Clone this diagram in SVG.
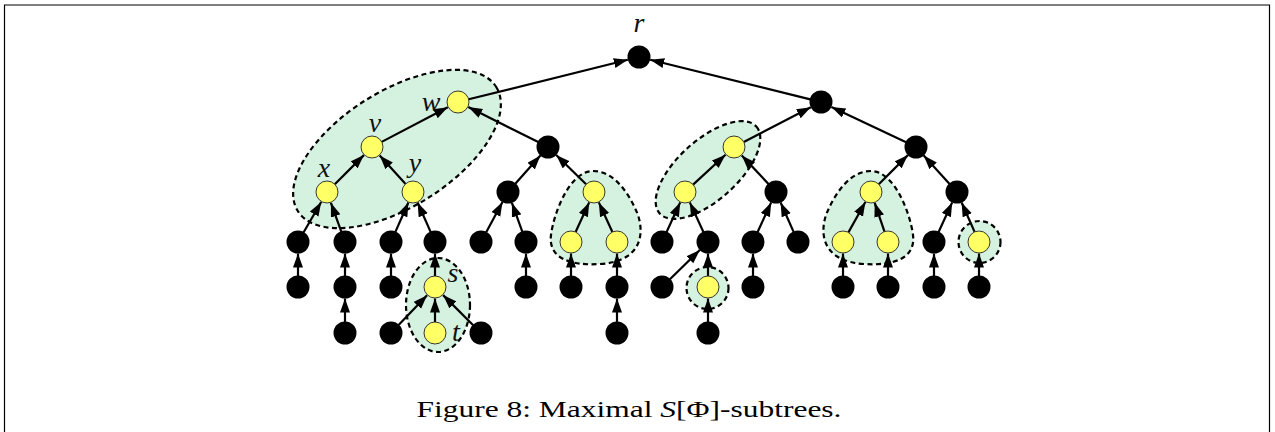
<svg xmlns="http://www.w3.org/2000/svg" width="1275" height="432" viewBox="0 0 1275 432">
<style>
.blob{fill:#d5f1e0;stroke:#000;stroke-width:2.2;stroke-dasharray:5 3.5}
.b{fill:#000}
.y{fill:#ffff66;stroke:#222;stroke-width:0.9}
.e{stroke:#000;stroke-width:2.2;fill:none;marker-end:url(#ah)}
.lbl{font-family:"Liberation Serif",serif;font-style:italic;font-size:28px;fill:#111}
.cap{font-family:"Liberation Serif",serif;font-size:24px;fill:#000}
</style>
<defs>
<marker id="ah" markerUnits="userSpaceOnUse" markerWidth="15" markerHeight="11" refX="14" refY="5" orient="auto">
<path d="M0,0 L14,5 L0,10 Z" fill="#000"/>
</marker>
</defs>
<rect width="1275" height="432" fill="#fff"/>
<path d="M4.5,432 V5 H1269.5 V432" fill="none" stroke="#000" stroke-width="1.2"/>

<g id="blobs">
<ellipse class="blob" cx="397" cy="149" rx="117" ry="58" transform="rotate(-32 397 149)"/>
<path class="blob" d="M593,171 C615,171 630,195 638,215 C646,240 636,262 600,264 C570,266 548,258 551,235 C554,212 570,171 593,171 Z"/>
<path class="blob" transform="translate(1464,0) scale(-1,1)" d="M593,171 C615,171 630,195 638,215 C646,240 636,262 600,264 C570,266 548,258 551,235 C554,212 570,171 593,171 Z"/>
<ellipse class="blob" cx="438" cy="305" rx="32" ry="47"/>
<ellipse class="blob" cx="708" cy="170" rx="65" ry="30" transform="rotate(-42 708 170)"/>
<circle class="blob" cx="707.5" cy="288" r="21"/>
<circle class="blob" cx="979.5" cy="242" r="21"/>
</g>

<g id="connectors">
<line class="e" x1="468.7" y1="99.3" x2="627.8" y2="59.8"/>
<line class="e" x1="810.3" y1="99.4" x2="650.2" y2="59.8"/>
<line class="e" x1="381.7" y1="141.9" x2="447.8" y2="107.3"/>
<line class="e" x1="538.2" y1="142.1" x2="468.3" y2="107.1"/>
<line class="e" x1="334.8" y1="184.2" x2="363.9" y2="155.1"/>
<line class="e" x1="405.6" y1="183.9" x2="379.7" y2="155.5"/>
<line class="e" x1="515.3" y1="183.8" x2="540.4" y2="155.6"/>
<line class="e" x1="586.1" y1="184.3" x2="556.2" y2="155.0"/>
<line class="e" x1="303.5" y1="232.5" x2="321.2" y2="202.0"/>
<line class="e" x1="341.3" y1="231.7" x2="330.9" y2="202.8"/>
<line class="e" x1="395.4" y1="231.9" x2="408.4" y2="202.5"/>
<line class="e" x1="430.6" y1="231.9" x2="417.6" y2="202.5"/>
<line class="e" x1="486.2" y1="232.3" x2="502.5" y2="202.1"/>
<line class="e" x1="522.3" y1="231.7" x2="511.9" y2="202.8"/>
<line class="e" x1="575.6" y1="232.0" x2="589.2" y2="202.4"/>
<line class="e" x1="612.4" y1="232.0" x2="598.8" y2="202.4"/>
<line class="e" x1="298" y1="276" x2="298" y2="253.5"/>
<line class="e" x1="345" y1="276" x2="345" y2="253.5"/>
<line class="e" x1="391" y1="276" x2="391" y2="253.5"/>
<line class="e" x1="435" y1="276" x2="435" y2="253.5"/>
<line class="e" x1="526" y1="276" x2="526" y2="253.5"/>
<line class="e" x1="571" y1="276" x2="571" y2="253.5"/>
<line class="e" x1="617" y1="276" x2="617" y2="253.5"/>
<line class="e" x1="345" y1="322" x2="345" y2="298.5"/>
<line class="e" x1="435" y1="322" x2="435" y2="298.5"/>
<line class="e" x1="617" y1="322" x2="617" y2="298.5"/>
<line class="e" x1="398.6" y1="325.1" x2="427.1" y2="295.3"/>
<line class="e" x1="473.2" y1="325.2" x2="443.1" y2="295.1"/>
<line class="e" x1="743.8" y1="141.9" x2="810.8" y2="107.3"/>
<line class="e" x1="906.1" y1="142.3" x2="831.4" y2="106.9"/>
<line class="e" x1="693.1" y1="184.6" x2="725.5" y2="154.8"/>
<line class="e" x1="768.5" y1="184.0" x2="741.8" y2="155.4"/>
<line class="e" x1="878.8" y1="184.2" x2="907.9" y2="155.1"/>
<line class="e" x1="949.6" y1="183.9" x2="923.7" y2="155.5"/>
<line class="e" x1="666.6" y1="232.0" x2="680.2" y2="202.4"/>
<line class="e" x1="703.4" y1="232.0" x2="689.8" y2="202.4"/>
<line class="e" x1="757.6" y1="232.0" x2="771.2" y2="202.4"/>
<line class="e" x1="793.6" y1="231.9" x2="780.6" y2="202.5"/>
<line class="e" x1="848.4" y1="232.4" x2="865.4" y2="202.0"/>
<line class="e" x1="884.5" y1="231.6" x2="874.7" y2="202.8"/>
<line class="e" x1="938.6" y1="232.0" x2="952.2" y2="202.4"/>
<line class="e" x1="974.6" y1="231.9" x2="961.6" y2="202.5"/>
<line class="e" x1="669.9" y1="279.3" x2="699.8" y2="250.0"/>
<line class="e" x1="708" y1="276" x2="708" y2="253.5"/>
<line class="e" x1="753" y1="276" x2="753" y2="253.5"/>
<line class="e" x1="843" y1="276" x2="843" y2="253.5"/>
<line class="e" x1="888" y1="276" x2="888" y2="253.5"/>
<line class="e" x1="934" y1="276" x2="934" y2="253.5"/>
<line class="e" x1="979" y1="276" x2="979" y2="253.5"/>
<line class="e" x1="708" y1="322" x2="708" y2="298.5"/>
</g>

<g id="node-r"><circle class="b" cx="639" cy="57" r="11.5"/><text class="lbl" x="639" y="32" text-anchor="middle">r</text></g>
<g id="node-w"><circle class="y" cx="458" cy="102" r="11"/><text class="lbl" x="431" y="111" text-anchor="middle">w</text></g>
<g id="node-b1"><circle class="b" cx="548" cy="147" r="11.5"/></g>
<g id="node-v"><circle class="y" cx="372" cy="147" r="11"/><text class="lbl" x="375" y="132" text-anchor="middle">v</text></g>
<g id="node-x"><circle class="y" cx="327" cy="192" r="11"/><text class="lbl" x="324" y="177" text-anchor="middle">x</text></g>
<g id="node-y"><circle class="y" cx="413" cy="192" r="11"/><text class="lbl" x="415" y="172" text-anchor="middle">y</text></g>
<g id="node-c1"><circle class="b" cx="508" cy="192" r="11.5"/></g>
<g id="node-d1"><circle class="y" cx="594" cy="192" r="11"/></g>
<g id="node-n1"><circle class="b" cx="298" cy="242" r="11.5"/></g>
<g id="node-n2"><circle class="b" cx="345" cy="242" r="11.5"/></g>
<g id="node-n3"><circle class="b" cx="391" cy="242" r="11.5"/></g>
<g id="node-n4"><circle class="b" cx="435" cy="242" r="11.5"/></g>
<g id="node-n5"><circle class="b" cx="481" cy="242" r="11.5"/></g>
<g id="node-n6"><circle class="b" cx="526" cy="242" r="11.5"/></g>
<g id="node-n7"><circle class="y" cx="571" cy="242" r="11"/></g>
<g id="node-n8"><circle class="y" cx="617" cy="242" r="11"/></g>
<g id="node-m1"><circle class="b" cx="298" cy="287" r="11.5"/></g>
<g id="node-m2"><circle class="b" cx="345" cy="287" r="11.5"/></g>
<g id="node-m3"><circle class="b" cx="391" cy="287" r="11.5"/></g>
<g id="node-s"><circle class="y" cx="435" cy="287" r="11"/><text class="lbl" x="453" y="282" text-anchor="middle">s</text></g>
<g id="node-m5"><circle class="b" cx="526" cy="287" r="11.5"/></g>
<g id="node-m6"><circle class="b" cx="571" cy="287" r="11.5"/></g>
<g id="node-m7"><circle class="b" cx="617" cy="287" r="11.5"/></g>
<g id="node-k1"><circle class="b" cx="345" cy="333" r="11.5"/></g>
<g id="node-k2"><circle class="b" cx="391" cy="333" r="11.5"/></g>
<g id="node-t"><circle class="y" cx="435" cy="333" r="11"/><text class="lbl" x="456" y="341" text-anchor="middle">t</text></g>
<g id="node-k3"><circle class="b" cx="481" cy="333" r="11.5"/></g>
<g id="node-k4"><circle class="b" cx="617" cy="333" r="11.5"/></g>

<g id="node-R1"><circle class="b" cx="821" cy="102" r="11.5"/></g>
<g id="node-R2"><circle class="y" cx="734" cy="147" r="11"/></g>
<g id="node-R3"><circle class="b" cx="916" cy="147" r="11.5"/></g>
<g id="node-R4"><circle class="y" cx="685" cy="192" r="11"/></g>
<g id="node-R5"><circle class="b" cx="776" cy="192" r="11.5"/></g>
<g id="node-R6"><circle class="y" cx="871" cy="192" r="11"/></g>
<g id="node-R7"><circle class="b" cx="957" cy="192" r="11.5"/></g>
<g id="node-P1"><circle class="b" cx="662" cy="242" r="11.5"/></g>
<g id="node-P2"><circle class="b" cx="708" cy="242" r="11.5"/></g>
<g id="node-P3"><circle class="b" cx="753" cy="242" r="11.5"/></g>
<g id="node-P4"><circle class="b" cx="798" cy="242" r="11.5"/></g>
<g id="node-P5"><circle class="y" cx="843" cy="242" r="11"/></g>
<g id="node-P6"><circle class="y" cx="888" cy="242" r="11"/></g>
<g id="node-P7"><circle class="b" cx="934" cy="242" r="11.5"/></g>
<g id="node-P8"><circle class="y" cx="979" cy="242" r="11"/></g>
<g id="node-Q1"><circle class="b" cx="662" cy="287" r="11.5"/></g>
<g id="node-Q2"><circle class="y" cx="708" cy="287" r="11"/></g>
<g id="node-Q3"><circle class="b" cx="753" cy="287" r="11.5"/></g>
<g id="node-Q5"><circle class="b" cx="843" cy="287" r="11.5"/></g>
<g id="node-Q6"><circle class="b" cx="888" cy="287" r="11.5"/></g>
<g id="node-Q7"><circle class="b" cx="934" cy="287" r="11.5"/></g>
<g id="node-Q8"><circle class="b" cx="979" cy="287" r="11.5"/></g>
<g id="node-S1"><circle class="b" cx="708" cy="333" r="11.5"/></g>

<text class="cap" x="629" y="417" text-anchor="middle" textLength="425" lengthAdjust="spacingAndGlyphs">Figure 8:  Maximal <tspan font-style="italic">S</tspan>[Φ]-subtrees.</text>
</svg>
